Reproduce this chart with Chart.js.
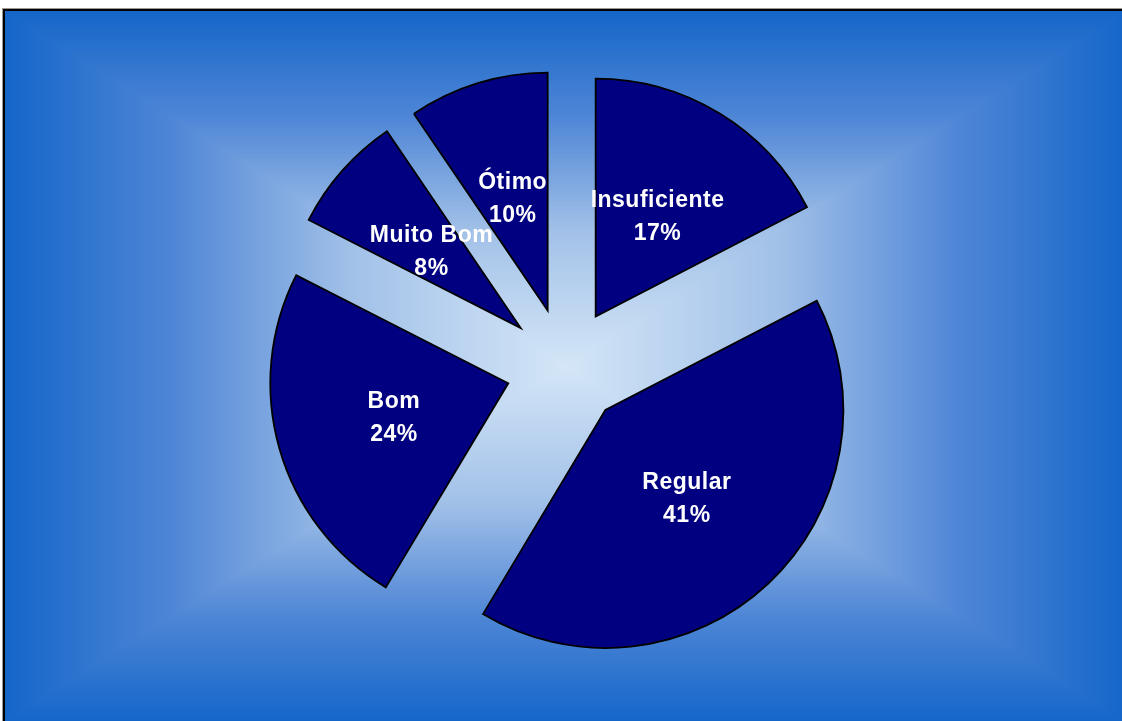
<!DOCTYPE html>
<html>
<head>
<meta charset="utf-8">
<script src="https://cdn.jsdelivr.net/npm/chart.js@4"></script>
<style>
html, body { margin: 0; padding: 0; background: #fff; }
</style>
</head>
<body>
<canvas id="chartOne" width="1122" height="721"></canvas>
<script>
const categories = ['Insuficiente', 'Regular', 'Bom', 'Muito Bom', 'Ótimo'];
// slice sizes; labels show them rounded
const percents = [17.4, 41.2, 23.9, 8.0, 9.5];

// how far each slice is pulled out, and where its label sits
const explode = 59;
const labelDist = 178;

// Excel style "from center" rectangular gradient + frame
let bgImage = null;
function buildBackground(w, h) {
  const stops = [[0, [20, 102, 201]], [0.3, [79, 134, 214]], [0.62, [162, 193, 232]], [1, [212, 230, 247]]];
  const c = document.createElement('canvas');
  c.width = w; c.height = h;
  const g = c.getContext('2d');
  const img = g.createImageData(w, h);
  const hw = w / 2, hh = h / 2;
  for (let y = 0; y < h; y++) {
    for (let x = 0; x < w; x++) {
      const t = 1 - Math.max(Math.abs(x + 0.5 - hw) / hw, Math.abs(y + 0.5 - hh) / hh);
      let k = 1;
      while (k < stops.length - 1 && t > stops[k][0]) k++;
      const a = stops[k - 1], b = stops[k];
      const f = Math.min(1, Math.max(0, (t - a[0]) / (b[0] - a[0])));
      const i = (y * w + x) * 4;
      img.data[i] = a[1][0] + (b[1][0] - a[1][0]) * f;
      img.data[i + 1] = a[1][1] + (b[1][1] - a[1][1]) * f;
      img.data[i + 2] = a[1][2] + (b[1][2] - a[1][2]) * f;
      img.data[i + 3] = 255;
    }
  }
  g.putImageData(img, 0, 0);
  return c;
}

const background = {
  id: 'background',
  beforeDraw(chart) {
    const ctx = chart.ctx;
    const x0 = 5, y0 = 11, w = 1121, h = 711;
    if (!bgImage) bgImage = buildBackground(w, h);
    ctx.save();
    ctx.fillStyle = '#fff';
    ctx.fillRect(0, 0, chart.width, chart.height);
    ctx.drawImage(bgImage, x0, y0);
    ctx.strokeStyle = '#9a9a9a';
    ctx.lineWidth = 1;
    ctx.strokeRect(2.5, 8.5, 1130, 720);
    ctx.strokeStyle = '#000';
    ctx.lineWidth = 2;
    ctx.strokeRect(4, 10, 1130, 720);
    ctx.restore();
  }
};

// draw the slices pulled out along their middle angle
const explodePie = {
  id: 'explodePie',
  beforeDatasetDraw(chart, args) {
    const ctx = chart.ctx;
    args.meta.data.forEach(arc => {
      const mid = (arc.startAngle + arc.endAngle) / 2;
      ctx.save();
      ctx.translate(Math.cos(mid) * explode, Math.sin(mid) * explode);
      arc.draw(ctx);
      ctx.restore();
    });
    return false;
  }
};

const sliceLabels = {
  id: 'sliceLabels',
  afterDatasetsDraw(chart) {
    const ctx = chart.ctx;
    const meta = chart.getDatasetMeta(0);
    ctx.save();
    ctx.font = 'bold 23px "Liberation Sans", Arial, sans-serif';
    ctx.letterSpacing = '0.5px';
    ctx.fillStyle = '#fff';
    ctx.textAlign = 'center';
    ctx.textBaseline = 'middle';
    meta.data.forEach((arc, i) => {
      const mid = (arc.startAngle + arc.endAngle) / 2;
      const x = arc.x + Math.cos(mid) * labelDist;
      const y = arc.y + Math.sin(mid) * labelDist;
      ctx.fillText(categories[i], x, y - 14);
      ctx.fillText(Math.round(percents[i]) + '%', x, y + 19);
    });
    ctx.restore();
  }
};

const chart1 = document.getElementById('chartOne');

new Chart(chart1, {
  type: 'pie',
  data: {
    labels: categories,
    datasets: [{
      data: percents,
      backgroundColor: '#000080',
      borderColor: '#000',
      borderWidth: 1.8,
      borderJoinStyle: 'miter'
    }]
  },
  options: {
    responsive: false,
    animation: false,
    events: [],
    radius: 238,
    layout: { padding: { left: 8, top: 13, right: 0, bottom: 0 } },
    plugins: {
      legend: { display: false },
      tooltip: { enabled: false }
    }
  },
  plugins: [background, explodePie, sliceLabels]
});
</script>
</body>
</html>
